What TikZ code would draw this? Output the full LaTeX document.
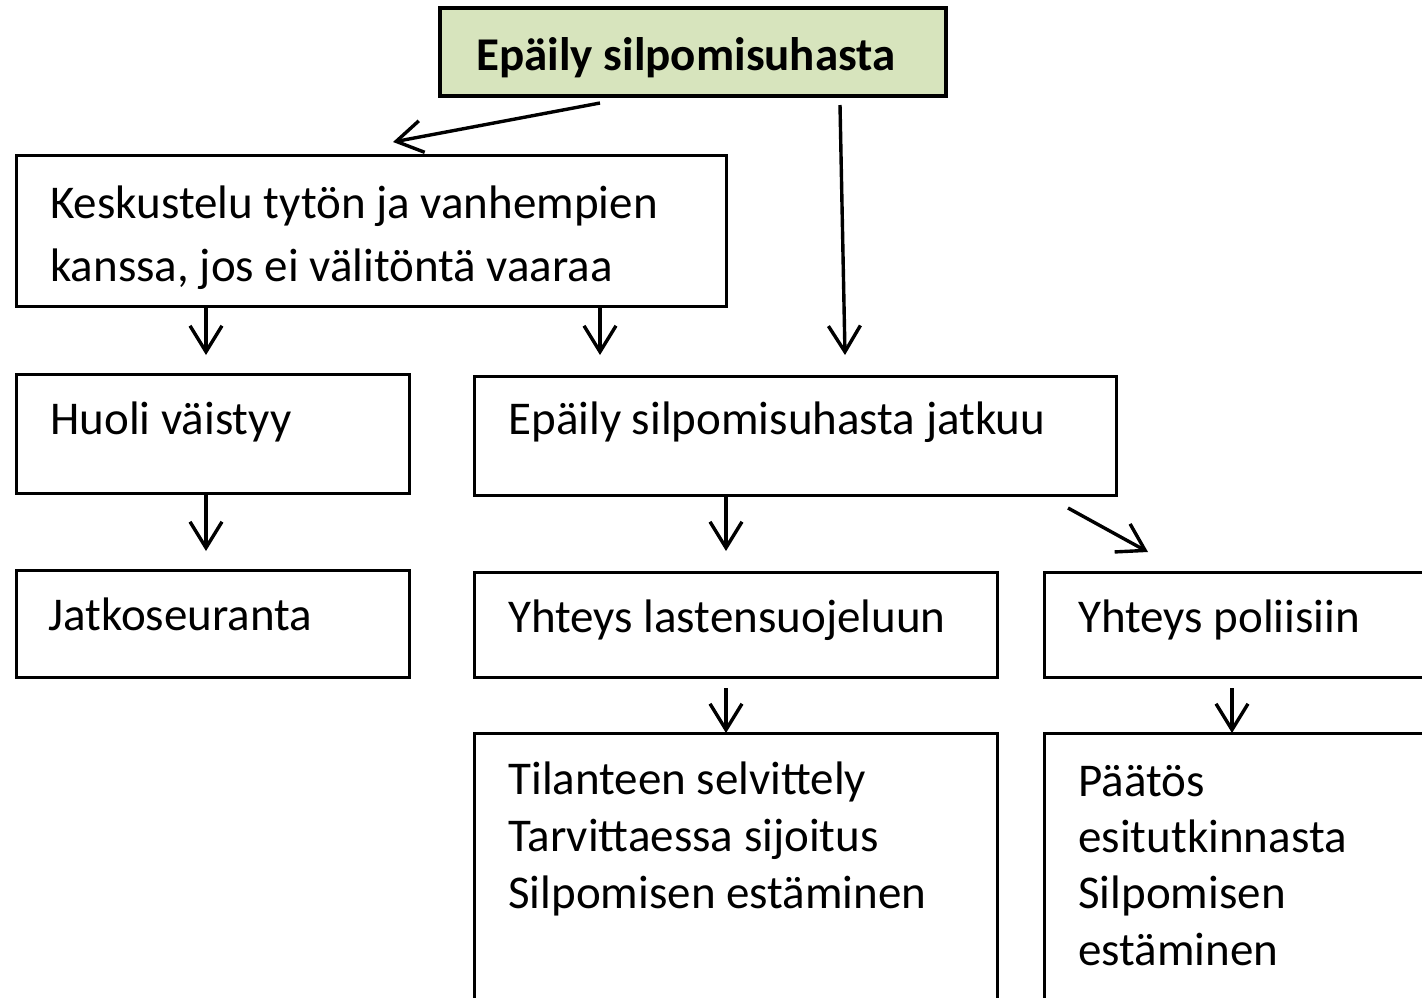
\documentclass[tikz,border=0pt]{standalone}
\usepackage{fontspec}
\setmainfont{Carlito}
\usetikzlibrary{arrows.meta,fit}
\definecolor{topfill}{HTML}{D7E4BD}
\tikzset{
  box/.style={draw=black, line width=1.5pt, inner sep=0pt, rectangle},
  topbox/.style={draw=black, line width=2pt, fill=topfill, inner sep=0pt, rectangle},
  txt/.style={anchor=base west, inner sep=0pt, font=\fontsize{23.5pt}{28pt}\selectfont},
  btxt/.style={txt, font=\fontsize{23.5pt}{28pt}\selectfont\bfseries},
  conn/.style={line width=1.7pt, -{Straight Barb[length=13pt,width=16pt,line width=1.7pt]}}
}
\begin{document}
\begin{tikzpicture}[x=0.5pt,y=-0.5pt]
\useasboundingbox (0,0) rectangle (1422,997);
\clip (0,0) rectangle (1422,997);
% boxes
\node[topbox, fit={(440,8)(946,96)}] (top) {};
\node[box, fit={(16,155)(726,306)}] (kesk) {};
\node[box, fit={(16,374)(409,493)}] (huoli) {};
\node[box, fit={(16,570)(409,677)}] (jatko) {};
\node[box, fit={(474,376)(1116,495)}] (jatkuu) {};
\node[box, fit={(474,572)(997,677)}] (lasten) {};
\node[box, fit={(1044,572)(1440,677)}] (poliisi) {};
\node[box, fit={(474,733)(997,1020)}] (tilanne) {};
\node[box, fit={(1044,733)(1440,1020)}] (paatos) {};
% texts
\node[btxt] (t0) at (476,70) {Epäily silpomisuhasta};
\node[txt] (t1) at (50,218) {Keskustelu tytön ja vanhempien};
\node[txt] (t2) at (50,281) {kanssa, jos ei välitöntä vaaraa};
\node[txt] (t3) at (50,434) {Huoli väistyy};
\node[txt] (t4) at (48,630) {Jatkoseuranta};
\node[txt] (t5) at (508,434) {Epäily silpomisuhasta jatkuu};
\node[txt] (t6) at (508,632) {Yhteys lastensuojeluun};
\node[txt] (t7) at (1078,632) {Yhteys poliisiin};
\node[txt] (t8) at (508,794) {Tilanteen selvittely};
\node[txt] (t9) at (508,851) {Tarvittaessa sijoitus};
\node[txt] (t10) at (508,908) {Silpomisen estäminen};
\node[txt] (t11) at (1078,796) {Päätös};
\node[txt] (t12) at (1078,852) {esitutkinnasta};
\node[txt] (t13) at (1078,908) {Silpomisen};
\node[txt] (t14) at (1078,965) {estäminen};
% connector end points
\coordinate (a1s) at (600,103);
\coordinate (a1e) at (393,142);
\coordinate (a2s) at (840,105);
\coordinate (a2e) at (845,355);
\coordinate (a3s) at (206,306);
\coordinate (a3e) at (206,355);
\coordinate (a4s) at (600,306);
\coordinate (a4e) at (600,355);
\coordinate (a5s) at (206,493);
\coordinate (a5e) at (206,551);
\coordinate (a6s) at (726,495);
\coordinate (a6e) at (726,551);
\coordinate (a7s) at (1068,508);
\coordinate (a7e) at (1148,552);
\coordinate (a8s) at (726,688);
\coordinate (a8e) at (726,733);
\coordinate (a9s) at (1232,688);
\coordinate (a9e) at (1232,733);
% connectors
\draw[conn] (a1s) -- (a1e);
\draw[conn] (a2s) -- (a2e);
\draw[conn] (a3s) -- (a3e);
\draw[conn] (a4s) -- (a4e);
\draw[conn] (a5s) -- (a5e);
\draw[conn] (a6s) -- (a6e);
\draw[conn] (a7s) -- (a7e);
\draw[conn] (a8s) -- (a8e);
\draw[conn] (a9s) -- (a9e);
\end{tikzpicture}
\end{document}
